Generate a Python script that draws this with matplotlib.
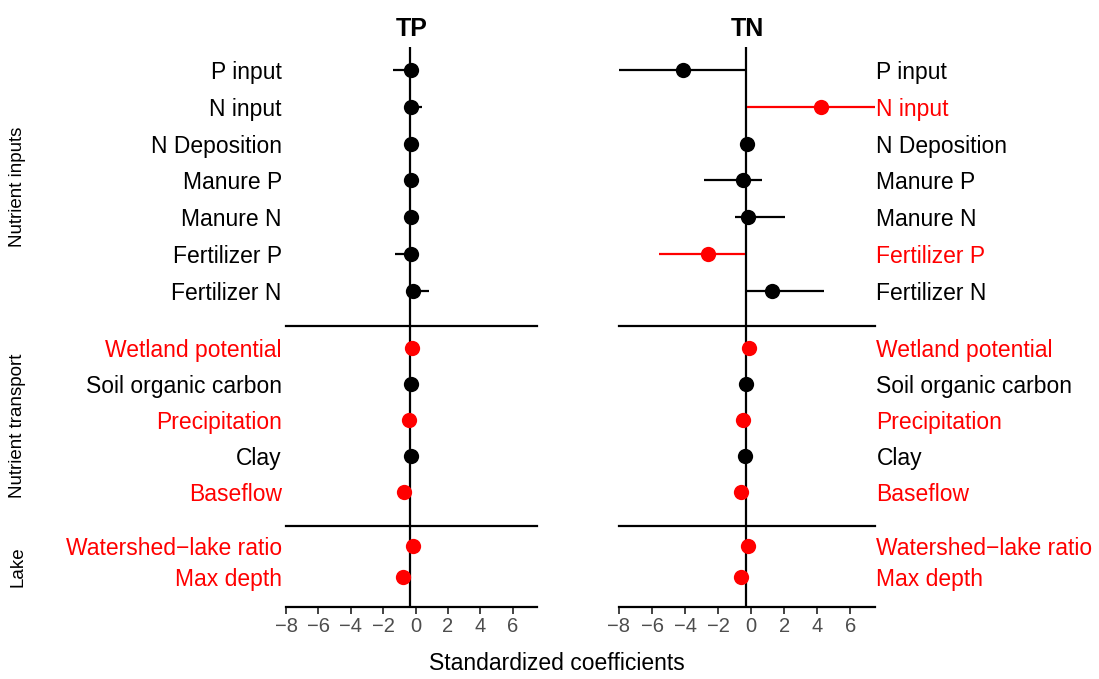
import numpy as np
import matplotlib
matplotlib.use("Agg")
import matplotlib.pyplot as plt

plt.rcParams['font.family'] = ['Liberation Sans', 'DejaVu Sans']

# rows, grouped into the three sections (top to bottom)
groups = ["Nutrient inputs", "Nutrient transport", "Lake"]
rows = [
    ["P input", "N input", "N Deposition", "Manure P", "Manure N", "Fertilizer P", "Fertilizer N"],
    ["Wetland potential", "Soil organic carbon", "Precipitation", "Clay", "Baseflow"],
    ["Watershed\u2212lake ratio", "Max depth"],
]

# TP coefficients and intervals
tp_est = [[-0.3, -0.3, -0.3, -0.3, -0.3, -0.3, -0.15],
          [-0.2, -0.3, -0.4, -0.27, -0.72],
          [-0.17, -0.75]]
tp_lo = [[-1.42, -0.5, -0.45, -0.45, -0.45, -1.26, -0.35],
         [-0.3, -0.4, -0.5, -0.37, -0.8],
         [-0.25, -0.85]]
tp_hi = [[-0.1, 0.37, -0.15, -0.15, -0.15, -0.1, 0.82],
         [-0.1, -0.2, -0.3, -0.17, -0.6],
         [-0.07, -0.65]]
tp_sig = [[0, 0, 0, 0, 0, 0, 0], [1, 0, 1, 0, 1], [1, 1]]

# TN coefficients and intervals
tn_est = [[-4.12, 4.23, -0.26, -0.5, -0.2, -2.61, 1.27],
          [-0.1, -0.3, -0.5, -0.4, -0.6],
          [-0.16, -0.6]]
tn_lo = [[-8.3, -0.24, -0.4, -2.85, -1.0, -5.59, -0.3],
         [-0.2, -0.4, -0.6, -0.5, -0.7],
         [-0.26, -0.7]]
tn_hi = [[-0.24, 7.8, -0.12, 0.65, 2.06, -0.36, 4.39],
         [0.0, -0.2, -0.4, -0.3, -0.5],
         [-0.06, -0.5]]
tn_sig = [[0, 1, 0, 0, 0, 1, 0], [1, 0, 1, 0, 1], [1, 1]]

ref_line = -0.32
xticks = [-8, -6, -4, -2, 0, 2, 4, 6]

W, H = 1099, 679
fig = plt.figure(figsize=(W / 100, H / 100), dpi=100)

# section boundaries in pixels (top, bottom)
sec_px = [(47, 326), (326, 526), (526, 607)]
col_px = [(286, 537), (619, 875)]
panels = [("TP", tp_est, tp_lo, tp_hi, tp_sig, "left"),
          ("TN", tn_est, tn_lo, tn_hi, tn_sig, "right")]

for (x0, x1), (name, est, lo, hi, sig, side) in zip(col_px, panels):
    for g, (y0, y1) in enumerate(sec_px):
        ax = fig.add_axes([x0 / W, 1 - y1 / H, (x1 - x0) / W, (y1 - y0) / H])
        ax.patch.set_visible(False)
        n = len(rows[g])
        ypos = -np.arange(n)
        cols = ["#FF0000" if s else "black" for s in sig[g]]
        ax.axvline(ref_line, color="black", lw=1.6, zorder=1)
        for k in range(n):
            ax.plot([lo[g][k], hi[g][k]], [ypos[k], ypos[k]], color=cols[k], lw=1.6, zorder=2,
                    solid_capstyle="butt")
            ax.plot(est[g][k], ypos[k], "o", color=cols[k], ms=11, mec="none", zorder=3)
        ax.set_xlim(-8, 7.5)
        ax.set_ylim(-(n - 1) - 0.95, 0.62)
        for sp in ["top", "left", "right"]:
            ax.spines[sp].set_visible(False)
        ax.spines["bottom"].set_linewidth(1.6)
        ax.set_yticks(ypos)
        if side == "left":
            ax.set_yticklabels(rows[g])
            ax.tick_params(axis="y", length=0, pad=3, labelsize=16.5)
        else:
            ax.yaxis.tick_right()
            ax.set_yticklabels(rows[g])
            ax.tick_params(axis="y", length=0, pad=1, labelsize=16.5)
        for lab, c in zip(ax.get_yticklabels(), cols):
            lab.set_color(c)
        if g == len(sec_px) - 1:
            ax.set_xticks(xticks)
            ax.set_xticklabels([str(t).replace("-", "\u2212") for t in xticks])
            ax.tick_params(axis="x", length=5, width=1.3, color="#333333",
                           labelcolor="#4D4D4D", labelsize=14.5, pad=2)
        else:
            ax.set_xticks([])
        if g == 0:
            ax.set_title(name, fontsize=18, fontweight="bold", pad=8)

# section labels on the far left
for g, (y0, y1) in enumerate(sec_px):
    fig.text(18 / W, 1 - (y0 + y1) / 2 / H, groups[g], rotation=90,
             ha="center", va="center", fontsize=13.5)

fig.text(557 / W, 1 - 663 / H, "Standardized coefficients", ha="center", va="center", fontsize=16.5)

fig.savefig("out.png", dpi=100)
